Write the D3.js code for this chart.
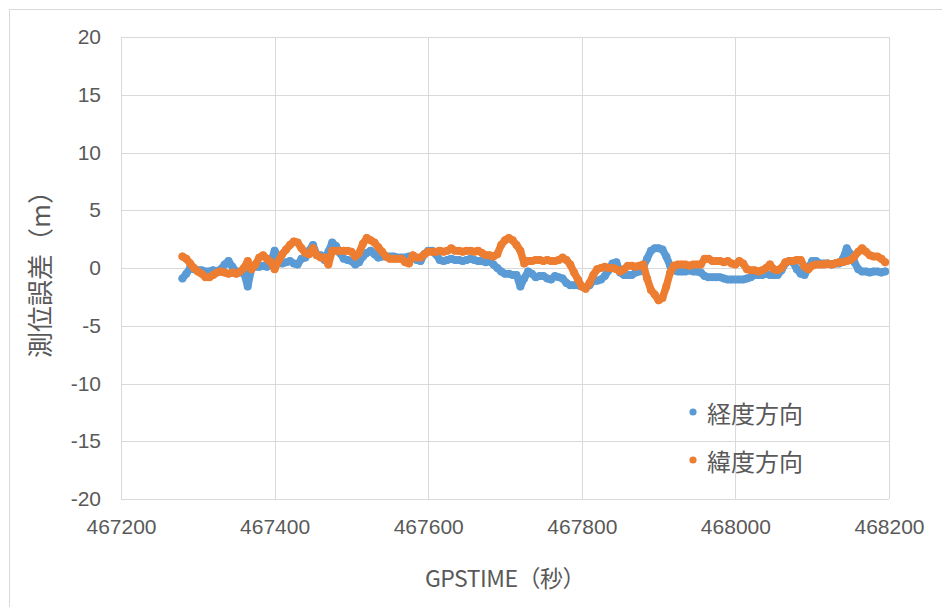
<!DOCTYPE html>
<html><head><meta charset="utf-8">
<script src="https://cdn.jsdelivr.net/npm/d3@7"></script>
<style>
body{margin:0;background:#fff;}
svg{display:block;}
</style>
</head><body>
<svg id="chart" width="942" height="607"></svg>
<script>
// ---- data ----
const sampleStart = 467280;   // GPSTIME of first sample (s)
const sampleStep = 5;         // sampling interval (s)
const lonError = [
 -0.9,-0.5,0.0,-0.1,-0.2,-0.2,-0.3,-0.3,-0.2,-0.3,
 -0.1,0.3,0.6,0.1,-0.3,-0.4,-0.4,-1.6,0.0,0.1,
 0.1,0.2,0.1,0.5,1.5,0.8,0.4,0.5,0.6,0.4,
 0.3,0.8,0.9,1.5,2.0,1.1,1.1,0.7,1.4,2.2,
 1.9,1.3,0.8,0.7,0.6,0.3,0.5,1.0,1.3,1.5,
 1.2,0.9,1.0,1.0,1.0,1.0,0.9,0.9,0.9,1.0,
 1.0,0.7,0.6,1.2,1.5,1.5,1.2,0.7,0.6,0.7,
 0.8,0.7,0.7,0.6,0.7,0.8,0.7,0.6,0.6,0.5,
 0.6,0.3,0.0,-0.3,-0.5,-0.5,-0.6,-0.6,-1.6,-0.9,
 -0.3,-0.5,-0.8,-0.7,-0.7,-0.9,-1.0,-0.7,-0.8,-0.9,
 -1.3,-1.5,-1.5,-1.5,-1.6,-1.7,-1.5,-1.1,-1.1,-1.0,
 -0.7,-0.2,0.4,0.5,-0.4,-0.6,-0.6,-0.6,-0.4,-0.3,
 0.1,0.8,1.5,1.7,1.7,1.6,1.0,0.2,-0.2,-0.3,
 -0.3,-0.3,-0.2,-0.3,-0.3,-0.4,-0.7,-0.8,-0.8,-0.8,
 -0.8,-0.9,-1.0,-1.0,-1.0,-1.0,-1.0,-0.9,-0.8,-0.6,
 -0.6,-0.6,-0.5,-0.6,-0.6,-0.6,-0.2,0.4,0.6,0.5,
 -0.1,-0.5,-0.6,0.0,0.6,0.6,0.4,0.4,0.4,0.3,
 0.4,0.4,0.8,1.7,1.2,0.5,-0.1,-0.3,-0.3,-0.4,
 -0.3,-0.3,-0.4,-0.3
];
const latError = [
 1.0,0.8,0.4,0.0,-0.3,-0.5,-0.8,-0.8,-0.6,-0.4,
 -0.3,-0.4,-0.5,-0.4,-0.5,-0.3,0.0,0.6,-0.1,0.3,
 0.9,1.1,0.8,0.5,-0.1,0.6,1.2,1.6,2.0,2.3,
 2.2,1.7,1.3,1.2,1.7,1.1,0.9,0.9,0.3,1.5,
 1.5,1.5,1.5,1.5,1.4,1.0,1.3,2.1,2.6,2.4,
 2.2,1.8,1.4,1.0,0.8,0.8,0.8,0.8,0.5,0.4,
 1.1,0.9,0.9,1.2,1.4,1.4,1.4,1.5,1.4,1.5,
 1.7,1.5,1.5,1.4,1.5,1.5,1.4,1.5,1.3,1.1,
 1.1,1.0,1.2,2.0,2.4,2.6,2.4,2.0,1.5,0.4,
 0.6,0.6,0.7,0.7,0.6,0.7,0.6,0.6,0.7,0.9,
 0.7,0.3,-0.4,-1.0,-1.6,-1.8,-1.3,-0.6,-0.1,0.0,
 0.1,0.0,0.0,-0.1,-0.3,-0.1,0.2,0.2,0.1,0.2,
 0.3,-0.9,-1.9,-2.3,-2.8,-2.6,-1.6,-0.4,0.2,0.3,
 0.3,0.3,0.2,0.3,0.3,0.3,0.8,0.8,0.6,0.6,
 0.6,0.5,0.6,0.4,0.3,0.6,0.4,-0.1,-0.2,-0.2,
 -0.3,-0.2,0.0,0.3,-0.1,-0.2,0.0,0.5,0.6,0.6,
 0.7,0.7,0.1,-0.1,0.2,0.3,0.3,0.3,0.4,0.3,
 0.4,0.5,0.5,0.6,0.7,1.0,1.4,1.7,1.4,1.1,
 1.0,1.0,0.8,0.5
];
const xTickValues = [467200, 467400, 467600, 467800, 468000, 468200];
const yTickValues = [-20, -15, -10, -5, 0, 5, 10, 15, 20];
const seriesNames = ["経度方向", "緯度方向"];
const seriesColors = ["#5B9BD5", "#ED7D31"];
const xTitle = "GPSTIME（秒）";
const yTitle = "測位誤差（m）";

// ---- layout ----
const svg = d3.select("#chart");
const L = 121, R = 889, T = 37, B = 499;
const x = d3.scaleLinear().domain([467200, 468200]).range([L, R]);
const y = d3.scaleLinear().domain([-20, 20]).range([B, T]);
const numFont = "'Liberation Sans',Arial,sans-serif";
const cjkFont = "'Noto Sans CJK JP','Noto Sans',sans-serif";
const textColor = "#595959";

svg.append("rect").attr("x", 9.5).attr("y", 9.5).attr("width", 940).attr("height", 610)
  .attr("fill", "#fff").attr("stroke", "#d9d9d9").attr("stroke-width", 1);

// gridlines
svg.append("g").selectAll("line").data(yTickValues).join("line")
  .attr("x1", L).attr("x2", R)
  .attr("y1", d => Math.round(y(d)) + 0.5).attr("y2", d => Math.round(y(d)) + 0.5)
  .attr("stroke", "#d9d9d9").attr("stroke-width", 1);
svg.append("g").selectAll("line").data(xTickValues).join("line")
  .attr("y1", T).attr("y2", B)
  .attr("x1", d => Math.round(x(d)) + 0.5).attr("x2", d => Math.round(x(d)) + 0.5)
  .attr("stroke", "#d9d9d9").attr("stroke-width", 1);

// axes labels via d3 axes (no domain / ticks lines)
const yAxis = svg.append("g").attr("transform", `translate(${L},0)`)
  .call(d3.axisLeft(y).tickValues(yTickValues).tickSize(0).tickPadding(20).tickFormat(d => String(d)));
const xAxis = svg.append("g").attr("transform", `translate(0,${B})`)
  .call(d3.axisBottom(x).tickValues(xTickValues).tickSize(0).tickPadding(20).tickFormat(d => String(d)));
[yAxis, xAxis].forEach(g => {
  g.select(".domain").remove();
  g.selectAll("text").attr("fill", textColor).attr("font-family", numFont).attr("font-size", 21);
});

// series
const times = d3.range(lonError.length).map(i => sampleStart + i * sampleStep);
const series = [lonError, latError];
series.forEach((vals, si) => {
  const pts = vals.map((v, i) => [times[i], v]);
  const line = d3.line().x(d => x(d[0])).y(d => y(d[1]));
  svg.append("path").attr("d", line(pts)).attr("fill", "none")
    .attr("stroke", seriesColors[si]).attr("stroke-width", 7.5)
    .attr("stroke-linejoin", "round").attr("stroke-linecap", "round");
  svg.append("g").selectAll("circle").data(pts).join("circle")
    .attr("cx", d => x(d[0])).attr("cy", d => y(d[1])).attr("r", 4)
    .attr("fill", seriesColors[si]);
});

// titles
svg.append("text").attr("x", (L + R) / 2).attr("y", 577)
  .attr("text-anchor", "middle").attr("dominant-baseline", "central")
  .attr("font-family", cjkFont).attr("font-size", 23).attr("fill", textColor)
  .attr("letter-spacing", -0.5).text(xTitle);
svg.append("text").attr("transform", `translate(38,${(T + B) / 2}) rotate(-90)`)
  .attr("text-anchor", "middle").attr("dominant-baseline", "central")
  .attr("font-family", cjkFont).attr("font-size", 26).attr("fill", textColor).text(yTitle);

// legend
const legendY = [412, 460];
seriesNames.forEach((name, i) => {
  svg.append("circle").attr("cx", 693).attr("cy", legendY[i]).attr("r", 3.6).attr("fill", seriesColors[i]);
  svg.append("text").attr("x", 707).attr("y", legendY[i]).attr("dominant-baseline", "central")
    .attr("font-family", cjkFont).attr("font-size", 24).attr("fill", textColor).text(name);
});
</script>
</body></html>
